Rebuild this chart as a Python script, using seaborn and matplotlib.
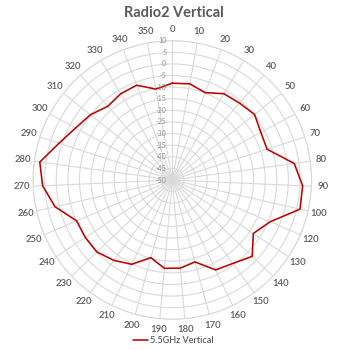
import numpy as np
import pandas as pd
import matplotlib
matplotlib.use("Agg")
import matplotlib.pyplot as plt
import seaborn as sns

# ---- data ----
angle_labels = ["0", "10", "20", "30", "40", "50", "60", "70", "80", "90", "100",
                "120", "130", "140", "150", "160", "170", "180", "190", "200", "210",
                "220", "230", "240", "250", "260", "270", "280", "290", "300", "310",
                "320", "330", "340", "350"]
gain_db = [-8.3, -7.9, -9.8, -6.7, -6.0, -4.7, -6.7, -7.1, 3.0, 6.2, 6.4,
           -4.2, -8.2, -2.4, -5.6, -7.0, -13.4, -11.9, -11.8, -15.3, -9.7,
           -7.2, -5.1, -5.1, -5.2, 1.8, 5.9, 7.6, 1.3, -2.7, -4.9,
           -7.8, -6.7, -6.4, -10.2]
radial_ticks = [10, 5, 0, -5, -10, -15, -20, -25, -30, -35, -40, -45, -50]
series_name = "5.5GHz Vertical"
title = "Radio2 Vertical"

sns.set_theme(style="white")
plt.rcParams["font.family"] = ["Lato", "DejaVu Sans"]

n = len(angle_labels)
theta = np.arange(n) * 2 * np.pi / n
df = pd.DataFrame({
    "theta": np.append(theta, theta[0] + 2 * np.pi),
    "gain": gain_db + [gain_db[0]],
    "series": series_name,
})

fig = plt.figure(figsize=(3.47, 3.50), dpi=100)
ax = fig.add_axes([0.0951, 0.0877, 0.803, 0.796], projection="polar")
ax.set_theta_zero_location("N")
ax.set_theta_direction(-1)
ax.set_ylim(-50, 10)

grid_col = "#d9d9d9"
text_col = "#595959"

sns.lineplot(data=df, x="theta", y="gain", hue="series", sort=False,
             palette=["#c00000"], linewidth=1.15, ax=ax, legend=True)

ax.set_xticks(theta)
ax.set_xticklabels([])
ax.set_yticks(radial_ticks)
ax.set_yticklabels([])
ax.grid(True, color=grid_col, linewidth=0.8)
ax.spines["polar"].set_color(grid_col)
ax.spines["polar"].set_linewidth(0.8)
ax.set_xlabel("")
ax.set_ylabel("")
ax.set_axisbelow(True)

for t, lab in zip(theta, angle_labels):
    ax.text(t, 14.8, lab, ha="center", va="center", fontsize=6.8,
            fontweight="semibold", color=text_col, clip_on=False)

for r in radial_ticks:
    ax.annotate(str(r), xy=(0, r), xytext=(-4.3, 0), textcoords="offset points",
                ha="right", va="center", fontsize=5.0, color="#8c8c8c",
                annotation_clip=False)

fig.text(0.5, 0.963, title, ha="center", va="center", fontsize=10.5,
         fontweight="bold", color=text_col)

handles, labels = ax.get_legend_handles_labels()
ax.get_legend().remove()
leg = fig.legend(handles, labels, loc="center", bbox_to_anchor=(0.5, 0.027),
                 frameon=False, fontsize=6.5, handlelength=1.6, handletextpad=0.3,
                 labelcolor=text_col, prop={"weight": "semibold", "size": 6.5})

fig.savefig("out.png", dpi=100)
